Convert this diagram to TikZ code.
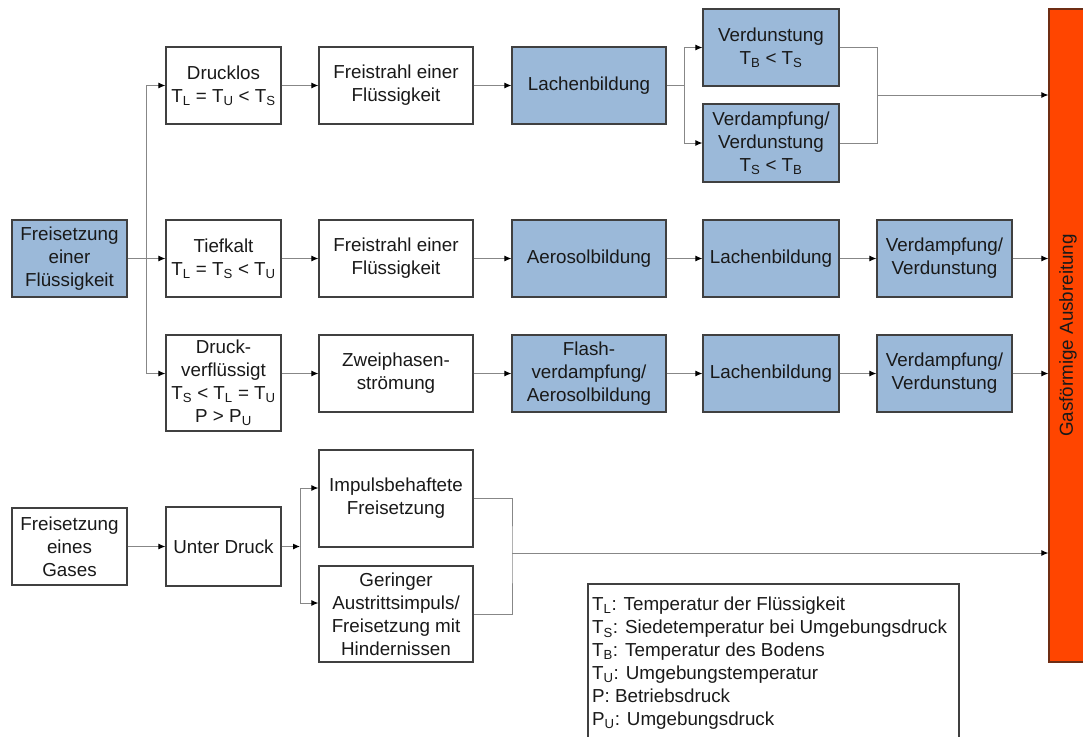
\documentclass[tikz,border=0pt]{standalone}
\usepackage{fontspec}
\setmainfont{Liberation Sans}
\usetikzlibrary{arrows.meta}
\definecolor{boxblue}{RGB}{155,185,217}
\definecolor{boxline}{RGB}{64,64,64}
\definecolor{lineg}{RGB}{135,135,135}
\definecolor{txt}{RGB}{25,25,25}
\definecolor{barred}{RGB}{255,69,0}
\definecolor{barline}{RGB}{110,45,20}
\begin{document}
\begin{tikzpicture}[x=1pt,y=-1pt,
  every node/.style={font=\fontsize{18.8}{23}\selectfont, text=txt},
  box/.style={draw=boxline, line width=1.2pt, fill=white, align=center, inner sep=1pt},
  bbox/.style={box, fill=boxblue},
  conn/.style={draw=lineg, line width=1pt},
  arr/.style={conn, -{Latex[length=7pt,width=6pt,color=black]}}]
\useasboundingbox (0,0) rectangle (1083,736);
\clip (0,0) rectangle (1083,736);

% liquid branch
\node[bbox, minimum width=115, minimum height=77] (fl) at (69.5,258.5) {Freisetzung\\einer\\Flüssigkeit};
\node[box, minimum width=115, minimum height=77] (drucklos) at (223.5,85.5) {Drucklos\\T\textsubscript{L} = T\textsubscript{U} < T\textsubscript{S}};
\node[box, minimum width=115, minimum height=77] (tief) at (223.5,258.5) {Tiefkalt\\T\textsubscript{L} = T\textsubscript{S} < T\textsubscript{U}};
\node[box, minimum width=115, minimum height=96] (druck) at (223.5,383) {Druck-\\verflüssigt\\T\textsubscript{S} < T\textsubscript{L} = T\textsubscript{U}\\P > P\textsubscript{U}};

\node[box, minimum width=154, minimum height=77] (frei1) at (396,85.5) {Freistrahl einer\\Flüssigkeit};
\node[box, minimum width=154, minimum height=77] (frei2) at (396,258.5) {Freistrahl einer\\Flüssigkeit};
\node[box, minimum width=154, minimum height=77] (zw) at (396,373.5) {Zweiphasen-\\strömung};

\node[bbox, minimum width=154, minimum height=77] (lach1) at (589,85.5) {Lachenbildung};
\node[bbox, minimum width=154, minimum height=77] (aero) at (589,258.5) {Aerosolbildung};
\node[bbox, minimum width=154, minimum height=77] (flash) at (589,373.5) {Flash-\\verdampfung/\\Aerosolbildung};

\node[bbox, minimum width=136, minimum height=77] (verdunst) at (771,47.5) {Verdunstung\\T\textsubscript{B} < T\textsubscript{S}};
\node[bbox, minimum width=136, minimum height=78] (verdampf1) at (771,143) {Verdampfung/\\Verdunstung\\T\textsubscript{S} < T\textsubscript{B}};
\node[bbox, minimum width=136, minimum height=77] (lach2) at (771,258.5) {Lachenbildung};
\node[bbox, minimum width=136, minimum height=77] (lach3) at (771,373.5) {Lachenbildung};

\node[bbox, minimum width=135, minimum height=77] (verd2) at (944.5,258.5) {Verdampfung/\\Verdunstung};
\node[bbox, minimum width=135, minimum height=77] (verd3) at (944.5,373.5) {Verdampfung/\\Verdunstung};

% gas branch
\node[box, minimum width=115, minimum height=77] (fg) at (69.5,546.5) {Freisetzung\\eines\\Gases};
\node[box, minimum width=115, minimum height=79] (ud) at (223.5,546.5) {Unter Druck};
\node[box, minimum width=154, minimum height=97] (imp) at (396,498.5) {Impulsbehaftete\\Freisetzung};
\node[box, minimum width=154, minimum height=96] (ger) at (396,614) {Geringer\\Austrittsimpuls/\\Freisetzung mit\\Hindernissen};

% red bar
\node[draw=barline, fill=barred, line width=1.2pt, minimum width=40, minimum height=653, inner sep=0] (bar) at (1069,335.5) {};
\node[rotate=90] (bartext) at (1068,335.5) {Gasförmige Ausbreitung};

% legend
\draw[draw=boxline, line width=1.2pt] (588,584) rectangle (959,760);
\node[anchor=north west, align=left, inner sep=0] (legend) at (592,597) {T\textsubscript{L}: Temperatur der Flüssigkeit\\T\textsubscript{S}: Siedetemperatur bei Umgebungsdruck\\T\textsubscript{B}: Temperatur des Bodens\\T\textsubscript{U}: Umgebungstemperatur\\P: Betriebsdruck\\P\textsubscript{U}: Umgebungsdruck};

% junctions
\coordinate (j1) at (146,258.5);
\coordinate (j2) at (684,85.5);
\coordinate (j3) at (877,95);
\coordinate (j4) at (300,546.5);
\coordinate (j6) at (512,553);

% connectors liquid
\draw[arr] (fl.east) -- (tief.west);
\draw[conn] (j1 |- drucklos.west) -- (j1 |- zw.west);
\draw[arr] (j1 |- drucklos.west) -- (drucklos.west);
\draw[arr] (j1 |- zw.west) -- (druck.west |- zw.west);
\draw[arr] (drucklos.east) -- (frei1.west);
\draw[arr] (frei1.east) -- (lach1.west);
\draw[conn] (lach1.east) -- (j2);
\draw[arr] (j2) |- (verdunst.west);
\draw[arr] (j2) |- (verdampf1.west);
\draw[conn] (verdunst.east) -| (j3) |- (verdampf1.east);
\draw[arr] (j3) -- (bar.west |- j3);

\draw[arr] (tief.east) -- (frei2.west);
\draw[arr] (frei2.east) -- (aero.west);
\draw[arr] (aero.east) -- (lach2.west);
\draw[arr] (lach2.east) -- (verd2.west);
\draw[arr] (verd2.east) -- (bar.west |- verd2.east);

\draw[arr] (druck.east |- zw.west) -- (zw.west);
\draw[arr] (zw.east) -- (flash.west);
\draw[arr] (flash.east) -- (lach3.west);
\draw[arr] (lach3.east) -- (verd3.west);
\draw[arr] (verd3.east) -- (bar.west |- verd3.east);

% connectors gas
\draw[arr] (fg.east) -- (ud.west);
\draw[arr] (ud.east) -- (j4);
\draw[arr] (j4) |- ([yshift=10.5pt]imp.west);
\draw[arr] (j4) |- ([yshift=11pt]ger.west);
\draw[conn] (imp.east) -| (j6) |- (ger.east);
\draw[arr] (j6) -- (bar.west |- j6);
\end{tikzpicture}
\end{document}
